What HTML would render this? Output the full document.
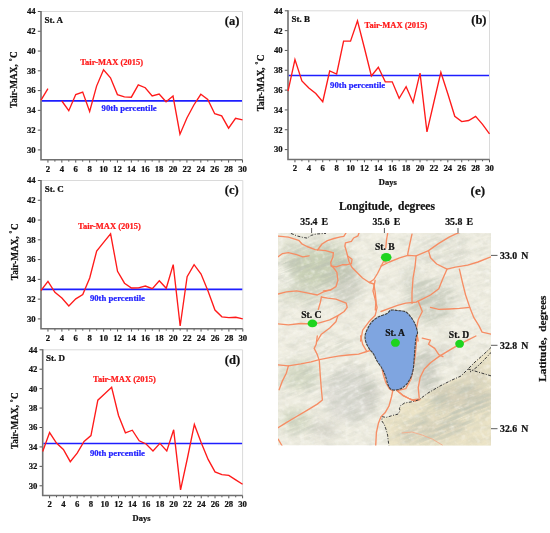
<!DOCTYPE html>
<html><head><meta charset="utf-8"><style>
html,body{margin:0;padding:0;background:#fff;}
body{width:550px;height:533px;overflow:hidden;}
svg{display:block;filter:blur(0.3px);}
text{font-family:"Liberation Serif",serif;font-weight:bold;fill:#111;stroke:#111;stroke-width:0.22px;}
.t{font-size:8.7px;}
.st{font-size:9px;}
.pl{font-size:12.5px;}
.rl{font-size:8.5px;fill:#ff1a1a;stroke:#ff1a1a;}
.bl{font-size:8.7px;fill:#2222ff;stroke:#2222ff;}
.yt{font-size:9.3px;}
.dy{font-size:8.5px;}
.mt{font-size:9.8px;word-spacing:1.6px;}
.ms{font-size:9.6px;}
.mh{font-size:11.5px;}
</style></head><body>
<svg width="550" height="533" viewBox="0 0 550 533">
<path d="M41.0 11.5H242.5V159.8" fill="none" stroke="#dadada" stroke-width="1"/>
<line x1="37.80" y1="149.91" x2="41.0" y2="149.91" stroke="#555" stroke-width="1"/>
<text x="35.70" y="152.81" text-anchor="end" class="t">30</text>
<line x1="37.80" y1="130.14" x2="41.0" y2="130.14" stroke="#555" stroke-width="1"/>
<text x="35.70" y="133.04" text-anchor="end" class="t">32</text>
<line x1="37.80" y1="110.37" x2="41.0" y2="110.37" stroke="#555" stroke-width="1"/>
<text x="35.70" y="113.27" text-anchor="end" class="t">34</text>
<line x1="37.80" y1="90.59" x2="41.0" y2="90.59" stroke="#555" stroke-width="1"/>
<text x="35.70" y="93.49" text-anchor="end" class="t">36</text>
<line x1="37.80" y1="70.82" x2="41.0" y2="70.82" stroke="#555" stroke-width="1"/>
<text x="35.70" y="73.72" text-anchor="end" class="t">38</text>
<line x1="37.80" y1="51.05" x2="41.0" y2="51.05" stroke="#555" stroke-width="1"/>
<text x="35.70" y="53.95" text-anchor="end" class="t">40</text>
<line x1="37.80" y1="31.27" x2="41.0" y2="31.27" stroke="#555" stroke-width="1"/>
<text x="35.70" y="34.17" text-anchor="end" class="t">42</text>
<line x1="37.80" y1="11.50" x2="41.0" y2="11.50" stroke="#555" stroke-width="1"/>
<text x="35.70" y="14.40" text-anchor="end" class="t">44</text>
<line x1="47.95" y1="159.8" x2="47.95" y2="162.60" stroke="#555" stroke-width="1"/>
<text x="47.95" y="171.60" text-anchor="middle" class="t">2</text>
<line x1="54.90" y1="159.8" x2="54.90" y2="161.60" stroke="#555" stroke-width="1"/>
<line x1="61.84" y1="159.8" x2="61.84" y2="162.60" stroke="#555" stroke-width="1"/>
<text x="61.84" y="171.60" text-anchor="middle" class="t">4</text>
<line x1="68.79" y1="159.8" x2="68.79" y2="161.60" stroke="#555" stroke-width="1"/>
<line x1="75.74" y1="159.8" x2="75.74" y2="162.60" stroke="#555" stroke-width="1"/>
<text x="75.74" y="171.60" text-anchor="middle" class="t">6</text>
<line x1="82.69" y1="159.8" x2="82.69" y2="161.60" stroke="#555" stroke-width="1"/>
<line x1="89.64" y1="159.8" x2="89.64" y2="162.60" stroke="#555" stroke-width="1"/>
<text x="89.64" y="171.60" text-anchor="middle" class="t">8</text>
<line x1="96.59" y1="159.8" x2="96.59" y2="161.60" stroke="#555" stroke-width="1"/>
<line x1="103.53" y1="159.8" x2="103.53" y2="162.60" stroke="#555" stroke-width="1"/>
<text x="103.53" y="171.60" text-anchor="middle" class="t">10</text>
<line x1="110.48" y1="159.8" x2="110.48" y2="161.60" stroke="#555" stroke-width="1"/>
<line x1="117.43" y1="159.8" x2="117.43" y2="162.60" stroke="#555" stroke-width="1"/>
<text x="117.43" y="171.60" text-anchor="middle" class="t">12</text>
<line x1="124.38" y1="159.8" x2="124.38" y2="161.60" stroke="#555" stroke-width="1"/>
<line x1="131.33" y1="159.8" x2="131.33" y2="162.60" stroke="#555" stroke-width="1"/>
<text x="131.33" y="171.60" text-anchor="middle" class="t">14</text>
<line x1="138.28" y1="159.8" x2="138.28" y2="161.60" stroke="#555" stroke-width="1"/>
<line x1="145.22" y1="159.8" x2="145.22" y2="162.60" stroke="#555" stroke-width="1"/>
<text x="145.22" y="171.60" text-anchor="middle" class="t">16</text>
<line x1="152.17" y1="159.8" x2="152.17" y2="161.60" stroke="#555" stroke-width="1"/>
<line x1="159.12" y1="159.8" x2="159.12" y2="162.60" stroke="#555" stroke-width="1"/>
<text x="159.12" y="171.60" text-anchor="middle" class="t">18</text>
<line x1="166.07" y1="159.8" x2="166.07" y2="161.60" stroke="#555" stroke-width="1"/>
<line x1="173.02" y1="159.8" x2="173.02" y2="162.60" stroke="#555" stroke-width="1"/>
<text x="173.02" y="171.60" text-anchor="middle" class="t">20</text>
<line x1="179.97" y1="159.8" x2="179.97" y2="161.60" stroke="#555" stroke-width="1"/>
<line x1="186.91" y1="159.8" x2="186.91" y2="162.60" stroke="#555" stroke-width="1"/>
<text x="186.91" y="171.60" text-anchor="middle" class="t">22</text>
<line x1="193.86" y1="159.8" x2="193.86" y2="161.60" stroke="#555" stroke-width="1"/>
<line x1="200.81" y1="159.8" x2="200.81" y2="162.60" stroke="#555" stroke-width="1"/>
<text x="200.81" y="171.60" text-anchor="middle" class="t">24</text>
<line x1="207.76" y1="159.8" x2="207.76" y2="161.60" stroke="#555" stroke-width="1"/>
<line x1="214.71" y1="159.8" x2="214.71" y2="162.60" stroke="#555" stroke-width="1"/>
<text x="214.71" y="171.60" text-anchor="middle" class="t">26</text>
<line x1="221.66" y1="159.8" x2="221.66" y2="161.60" stroke="#555" stroke-width="1"/>
<line x1="228.60" y1="159.8" x2="228.60" y2="162.60" stroke="#555" stroke-width="1"/>
<text x="228.60" y="171.60" text-anchor="middle" class="t">28</text>
<line x1="235.55" y1="159.8" x2="235.55" y2="161.60" stroke="#555" stroke-width="1"/>
<line x1="242.50" y1="159.8" x2="242.50" y2="162.60" stroke="#555" stroke-width="1"/>
<text x="242.50" y="171.60" text-anchor="middle" class="t">30</text>
<path d="M41.0 11.0V159.8H242.5" fill="none" stroke="#707070" stroke-width="1.6"/>
<line x1="41.8" y1="100.8" x2="242.0" y2="100.8" stroke="#1e1eff" stroke-width="1.7"/>
<polyline points="41.00,100.10 47.95,88.60" fill="none" stroke="#ff1a1a" stroke-width="1.35" stroke-linejoin="miter"/>
<polyline points="61.84,101.00 68.79,110.70 75.74,94.60 82.69,92.10 89.64,111.50 96.59,86.10 103.53,69.70 110.48,77.80 117.43,94.60 124.38,96.90 131.33,97.20 138.28,84.80 145.22,87.70 152.17,95.90 159.12,94.00 166.07,101.80 173.02,96.10 179.97,134.20 186.91,118.00 193.86,105.00 200.81,94.30 207.76,99.40 214.71,113.70 221.66,115.90 228.60,128.20 235.55,118.30 242.50,119.90" fill="none" stroke="#ff1a1a" stroke-width="1.35" stroke-linejoin="miter"/>
<text x="44.60" y="22.90" class="st">St. A</text>
<text x="239.30" y="25.00" text-anchor="end" class="pl">(a)</text>
<text x="80.2" y="65.0" class="rl">Tair-MAX (2015)</text>
<text x="101.6" y="111.3" class="bl">90th percentile</text>
<text transform="translate(17.40,79.70) rotate(-90)" text-anchor="middle" class="yt">Tair-MAX,<tspan dx="2.8" font-size="7" dy="-3.4">°</tspan><tspan dy="3.4" dx="0.5">C</tspan></text>
<path d="M288.0 10.8H489.5V159.5" fill="none" stroke="#dadada" stroke-width="1"/>
<line x1="284.80" y1="149.59" x2="288.0" y2="149.59" stroke="#555" stroke-width="1"/>
<text x="282.70" y="152.49" text-anchor="end" class="t">30</text>
<line x1="284.80" y1="129.76" x2="288.0" y2="129.76" stroke="#555" stroke-width="1"/>
<text x="282.70" y="132.66" text-anchor="end" class="t">32</text>
<line x1="284.80" y1="109.93" x2="288.0" y2="109.93" stroke="#555" stroke-width="1"/>
<text x="282.70" y="112.83" text-anchor="end" class="t">34</text>
<line x1="284.80" y1="90.11" x2="288.0" y2="90.11" stroke="#555" stroke-width="1"/>
<text x="282.70" y="93.01" text-anchor="end" class="t">36</text>
<line x1="284.80" y1="70.28" x2="288.0" y2="70.28" stroke="#555" stroke-width="1"/>
<text x="282.70" y="73.18" text-anchor="end" class="t">38</text>
<line x1="284.80" y1="50.45" x2="288.0" y2="50.45" stroke="#555" stroke-width="1"/>
<text x="282.70" y="53.35" text-anchor="end" class="t">40</text>
<line x1="284.80" y1="30.63" x2="288.0" y2="30.63" stroke="#555" stroke-width="1"/>
<text x="282.70" y="33.53" text-anchor="end" class="t">42</text>
<line x1="284.80" y1="10.80" x2="288.0" y2="10.80" stroke="#555" stroke-width="1"/>
<text x="282.70" y="13.70" text-anchor="end" class="t">44</text>
<line x1="294.95" y1="159.5" x2="294.95" y2="162.30" stroke="#555" stroke-width="1"/>
<text x="294.95" y="171.30" text-anchor="middle" class="t">2</text>
<line x1="301.90" y1="159.5" x2="301.90" y2="161.30" stroke="#555" stroke-width="1"/>
<line x1="308.84" y1="159.5" x2="308.84" y2="162.30" stroke="#555" stroke-width="1"/>
<text x="308.84" y="171.30" text-anchor="middle" class="t">4</text>
<line x1="315.79" y1="159.5" x2="315.79" y2="161.30" stroke="#555" stroke-width="1"/>
<line x1="322.74" y1="159.5" x2="322.74" y2="162.30" stroke="#555" stroke-width="1"/>
<text x="322.74" y="171.30" text-anchor="middle" class="t">6</text>
<line x1="329.69" y1="159.5" x2="329.69" y2="161.30" stroke="#555" stroke-width="1"/>
<line x1="336.64" y1="159.5" x2="336.64" y2="162.30" stroke="#555" stroke-width="1"/>
<text x="336.64" y="171.30" text-anchor="middle" class="t">8</text>
<line x1="343.59" y1="159.5" x2="343.59" y2="161.30" stroke="#555" stroke-width="1"/>
<line x1="350.53" y1="159.5" x2="350.53" y2="162.30" stroke="#555" stroke-width="1"/>
<text x="350.53" y="171.30" text-anchor="middle" class="t">10</text>
<line x1="357.48" y1="159.5" x2="357.48" y2="161.30" stroke="#555" stroke-width="1"/>
<line x1="364.43" y1="159.5" x2="364.43" y2="162.30" stroke="#555" stroke-width="1"/>
<text x="364.43" y="171.30" text-anchor="middle" class="t">12</text>
<line x1="371.38" y1="159.5" x2="371.38" y2="161.30" stroke="#555" stroke-width="1"/>
<line x1="378.33" y1="159.5" x2="378.33" y2="162.30" stroke="#555" stroke-width="1"/>
<text x="378.33" y="171.30" text-anchor="middle" class="t">14</text>
<line x1="385.28" y1="159.5" x2="385.28" y2="161.30" stroke="#555" stroke-width="1"/>
<line x1="392.22" y1="159.5" x2="392.22" y2="162.30" stroke="#555" stroke-width="1"/>
<text x="392.22" y="171.30" text-anchor="middle" class="t">16</text>
<line x1="399.17" y1="159.5" x2="399.17" y2="161.30" stroke="#555" stroke-width="1"/>
<line x1="406.12" y1="159.5" x2="406.12" y2="162.30" stroke="#555" stroke-width="1"/>
<text x="406.12" y="171.30" text-anchor="middle" class="t">18</text>
<line x1="413.07" y1="159.5" x2="413.07" y2="161.30" stroke="#555" stroke-width="1"/>
<line x1="420.02" y1="159.5" x2="420.02" y2="162.30" stroke="#555" stroke-width="1"/>
<text x="420.02" y="171.30" text-anchor="middle" class="t">20</text>
<line x1="426.97" y1="159.5" x2="426.97" y2="161.30" stroke="#555" stroke-width="1"/>
<line x1="433.91" y1="159.5" x2="433.91" y2="162.30" stroke="#555" stroke-width="1"/>
<text x="433.91" y="171.30" text-anchor="middle" class="t">22</text>
<line x1="440.86" y1="159.5" x2="440.86" y2="161.30" stroke="#555" stroke-width="1"/>
<line x1="447.81" y1="159.5" x2="447.81" y2="162.30" stroke="#555" stroke-width="1"/>
<text x="447.81" y="171.30" text-anchor="middle" class="t">24</text>
<line x1="454.76" y1="159.5" x2="454.76" y2="161.30" stroke="#555" stroke-width="1"/>
<line x1="461.71" y1="159.5" x2="461.71" y2="162.30" stroke="#555" stroke-width="1"/>
<text x="461.71" y="171.30" text-anchor="middle" class="t">26</text>
<line x1="468.66" y1="159.5" x2="468.66" y2="161.30" stroke="#555" stroke-width="1"/>
<line x1="475.60" y1="159.5" x2="475.60" y2="162.30" stroke="#555" stroke-width="1"/>
<text x="475.60" y="171.30" text-anchor="middle" class="t">28</text>
<line x1="482.55" y1="159.5" x2="482.55" y2="161.30" stroke="#555" stroke-width="1"/>
<line x1="489.50" y1="159.5" x2="489.50" y2="162.30" stroke="#555" stroke-width="1"/>
<text x="489.50" y="171.30" text-anchor="middle" class="t">30</text>
<path d="M288.0 10.3V159.5H489.5" fill="none" stroke="#707070" stroke-width="1.6"/>
<line x1="288.8" y1="75.5" x2="489.0" y2="75.5" stroke="#1e1eff" stroke-width="1.7"/>
<polyline points="288.00,91.10 294.95,59.50 301.90,81.00 308.84,88.00 315.79,93.50 322.74,101.70 329.69,71.00 336.64,74.00 343.59,41.10 350.53,41.10 357.48,20.80 364.43,48.00 371.38,76.00 378.33,67.30 385.28,81.80 392.22,81.80 399.17,98.30 406.12,86.70 413.07,102.50 420.02,73.20 426.97,131.80 433.91,102.00 440.86,72.30 447.81,93.80 454.76,116.30 461.71,121.60 468.66,120.50 475.60,116.30 482.55,124.30 489.50,133.90" fill="none" stroke="#ff1a1a" stroke-width="1.35" stroke-linejoin="miter"/>
<text x="291.50" y="22.20" class="st">St. B</text>
<text x="486.50" y="23.60" text-anchor="end" class="pl">(b)</text>
<text x="364.5" y="28.1" class="rl">Tair-MAX (2015)</text>
<text x="330.1" y="87.8" class="bl">90th percentile</text>
<text transform="translate(263.80,82.90) rotate(-90)" text-anchor="middle" class="yt">Tair-MAX,<tspan dx="2.8" font-size="7" dy="-3.4">°</tspan><tspan dy="3.4" dx="0.5">C</tspan></text>
<text x="387.80" y="184.90" text-anchor="middle" class="dy">Days</text>
<path d="M41.0 180.5H242.8V328.8" fill="none" stroke="#dadada" stroke-width="1"/>
<line x1="37.80" y1="318.91" x2="41.0" y2="318.91" stroke="#555" stroke-width="1"/>
<text x="35.70" y="321.81" text-anchor="end" class="t">30</text>
<line x1="37.80" y1="299.14" x2="41.0" y2="299.14" stroke="#555" stroke-width="1"/>
<text x="35.70" y="302.04" text-anchor="end" class="t">32</text>
<line x1="37.80" y1="279.37" x2="41.0" y2="279.37" stroke="#555" stroke-width="1"/>
<text x="35.70" y="282.27" text-anchor="end" class="t">34</text>
<line x1="37.80" y1="259.59" x2="41.0" y2="259.59" stroke="#555" stroke-width="1"/>
<text x="35.70" y="262.49" text-anchor="end" class="t">36</text>
<line x1="37.80" y1="239.82" x2="41.0" y2="239.82" stroke="#555" stroke-width="1"/>
<text x="35.70" y="242.72" text-anchor="end" class="t">38</text>
<line x1="37.80" y1="220.05" x2="41.0" y2="220.05" stroke="#555" stroke-width="1"/>
<text x="35.70" y="222.95" text-anchor="end" class="t">40</text>
<line x1="37.80" y1="200.27" x2="41.0" y2="200.27" stroke="#555" stroke-width="1"/>
<text x="35.70" y="203.17" text-anchor="end" class="t">42</text>
<line x1="37.80" y1="180.50" x2="41.0" y2="180.50" stroke="#555" stroke-width="1"/>
<text x="35.70" y="183.40" text-anchor="end" class="t">44</text>
<line x1="47.96" y1="328.8" x2="47.96" y2="331.60" stroke="#555" stroke-width="1"/>
<text x="47.96" y="340.60" text-anchor="middle" class="t">2</text>
<line x1="54.92" y1="328.8" x2="54.92" y2="330.60" stroke="#555" stroke-width="1"/>
<line x1="61.88" y1="328.8" x2="61.88" y2="331.60" stroke="#555" stroke-width="1"/>
<text x="61.88" y="340.60" text-anchor="middle" class="t">4</text>
<line x1="68.83" y1="328.8" x2="68.83" y2="330.60" stroke="#555" stroke-width="1"/>
<line x1="75.79" y1="328.8" x2="75.79" y2="331.60" stroke="#555" stroke-width="1"/>
<text x="75.79" y="340.60" text-anchor="middle" class="t">6</text>
<line x1="82.75" y1="328.8" x2="82.75" y2="330.60" stroke="#555" stroke-width="1"/>
<line x1="89.71" y1="328.8" x2="89.71" y2="331.60" stroke="#555" stroke-width="1"/>
<text x="89.71" y="340.60" text-anchor="middle" class="t">8</text>
<line x1="96.67" y1="328.8" x2="96.67" y2="330.60" stroke="#555" stroke-width="1"/>
<line x1="103.63" y1="328.8" x2="103.63" y2="331.60" stroke="#555" stroke-width="1"/>
<text x="103.63" y="340.60" text-anchor="middle" class="t">10</text>
<line x1="110.59" y1="328.8" x2="110.59" y2="330.60" stroke="#555" stroke-width="1"/>
<line x1="117.54" y1="328.8" x2="117.54" y2="331.60" stroke="#555" stroke-width="1"/>
<text x="117.54" y="340.60" text-anchor="middle" class="t">12</text>
<line x1="124.50" y1="328.8" x2="124.50" y2="330.60" stroke="#555" stroke-width="1"/>
<line x1="131.46" y1="328.8" x2="131.46" y2="331.60" stroke="#555" stroke-width="1"/>
<text x="131.46" y="340.60" text-anchor="middle" class="t">14</text>
<line x1="138.42" y1="328.8" x2="138.42" y2="330.60" stroke="#555" stroke-width="1"/>
<line x1="145.38" y1="328.8" x2="145.38" y2="331.60" stroke="#555" stroke-width="1"/>
<text x="145.38" y="340.60" text-anchor="middle" class="t">16</text>
<line x1="152.34" y1="328.8" x2="152.34" y2="330.60" stroke="#555" stroke-width="1"/>
<line x1="159.30" y1="328.8" x2="159.30" y2="331.60" stroke="#555" stroke-width="1"/>
<text x="159.30" y="340.60" text-anchor="middle" class="t">18</text>
<line x1="166.26" y1="328.8" x2="166.26" y2="330.60" stroke="#555" stroke-width="1"/>
<line x1="173.21" y1="328.8" x2="173.21" y2="331.60" stroke="#555" stroke-width="1"/>
<text x="173.21" y="340.60" text-anchor="middle" class="t">20</text>
<line x1="180.17" y1="328.8" x2="180.17" y2="330.60" stroke="#555" stroke-width="1"/>
<line x1="187.13" y1="328.8" x2="187.13" y2="331.60" stroke="#555" stroke-width="1"/>
<text x="187.13" y="340.60" text-anchor="middle" class="t">22</text>
<line x1="194.09" y1="328.8" x2="194.09" y2="330.60" stroke="#555" stroke-width="1"/>
<line x1="201.05" y1="328.8" x2="201.05" y2="331.60" stroke="#555" stroke-width="1"/>
<text x="201.05" y="340.60" text-anchor="middle" class="t">24</text>
<line x1="208.01" y1="328.8" x2="208.01" y2="330.60" stroke="#555" stroke-width="1"/>
<line x1="214.97" y1="328.8" x2="214.97" y2="331.60" stroke="#555" stroke-width="1"/>
<text x="214.97" y="340.60" text-anchor="middle" class="t">26</text>
<line x1="221.92" y1="328.8" x2="221.92" y2="330.60" stroke="#555" stroke-width="1"/>
<line x1="228.88" y1="328.8" x2="228.88" y2="331.60" stroke="#555" stroke-width="1"/>
<text x="228.88" y="340.60" text-anchor="middle" class="t">28</text>
<line x1="235.84" y1="328.8" x2="235.84" y2="330.60" stroke="#555" stroke-width="1"/>
<line x1="242.80" y1="328.8" x2="242.80" y2="331.60" stroke="#555" stroke-width="1"/>
<text x="242.80" y="340.60" text-anchor="middle" class="t">30</text>
<path d="M41.0 180.0V328.8H242.8" fill="none" stroke="#707070" stroke-width="1.6"/>
<line x1="41.8" y1="289.4" x2="242.3" y2="289.4" stroke="#1e1eff" stroke-width="1.7"/>
<polyline points="41.00,290.50 47.96,281.40 54.92,292.40 61.88,298.00 68.83,306.00 75.79,298.90 82.75,294.50 89.71,278.00 96.67,251.00 103.63,242.30 110.59,233.80 117.54,271.30 124.50,283.20 131.46,288.00 138.42,287.80 145.38,286.00 152.34,288.70 159.30,280.80 166.26,288.30 173.21,264.60 180.17,326.00 187.13,276.70 194.09,264.70 201.05,274.00 208.01,291.00 214.97,310.10 221.92,316.80 228.88,317.60 235.84,317.30 242.80,318.80" fill="none" stroke="#ff1a1a" stroke-width="1.35" stroke-linejoin="miter"/>
<text x="44.70" y="192.40" class="st">St. C</text>
<text x="238.70" y="193.60" text-anchor="end" class="pl">(c)</text>
<text x="78" y="229.4" class="rl">Tair-MAX (2015)</text>
<text x="89.9" y="301" class="bl">90th percentile</text>
<text transform="translate(17.50,251.80) rotate(-90)" text-anchor="middle" class="yt">Tair-MAX,<tspan dx="2.8" font-size="7" dy="-3.4">°</tspan><tspan dy="3.4" dx="0.5">C</tspan></text>
<path d="M42.7 349.8H242.6V495.5" fill="none" stroke="#dadada" stroke-width="1"/>
<line x1="39.50" y1="485.79" x2="42.7" y2="485.79" stroke="#555" stroke-width="1"/>
<text x="37.40" y="488.69" text-anchor="end" class="t">30</text>
<line x1="39.50" y1="466.36" x2="42.7" y2="466.36" stroke="#555" stroke-width="1"/>
<text x="37.40" y="469.26" text-anchor="end" class="t">32</text>
<line x1="39.50" y1="446.93" x2="42.7" y2="446.93" stroke="#555" stroke-width="1"/>
<text x="37.40" y="449.83" text-anchor="end" class="t">34</text>
<line x1="39.50" y1="427.51" x2="42.7" y2="427.51" stroke="#555" stroke-width="1"/>
<text x="37.40" y="430.41" text-anchor="end" class="t">36</text>
<line x1="39.50" y1="408.08" x2="42.7" y2="408.08" stroke="#555" stroke-width="1"/>
<text x="37.40" y="410.98" text-anchor="end" class="t">38</text>
<line x1="39.50" y1="388.65" x2="42.7" y2="388.65" stroke="#555" stroke-width="1"/>
<text x="37.40" y="391.55" text-anchor="end" class="t">40</text>
<line x1="39.50" y1="369.23" x2="42.7" y2="369.23" stroke="#555" stroke-width="1"/>
<text x="37.40" y="372.13" text-anchor="end" class="t">42</text>
<line x1="39.50" y1="349.80" x2="42.7" y2="349.80" stroke="#555" stroke-width="1"/>
<text x="37.40" y="352.70" text-anchor="end" class="t">44</text>
<line x1="49.59" y1="495.5" x2="49.59" y2="498.30" stroke="#555" stroke-width="1"/>
<text x="49.59" y="507.30" text-anchor="middle" class="t">2</text>
<line x1="56.49" y1="495.5" x2="56.49" y2="497.30" stroke="#555" stroke-width="1"/>
<line x1="63.38" y1="495.5" x2="63.38" y2="498.30" stroke="#555" stroke-width="1"/>
<text x="63.38" y="507.30" text-anchor="middle" class="t">4</text>
<line x1="70.27" y1="495.5" x2="70.27" y2="497.30" stroke="#555" stroke-width="1"/>
<line x1="77.17" y1="495.5" x2="77.17" y2="498.30" stroke="#555" stroke-width="1"/>
<text x="77.17" y="507.30" text-anchor="middle" class="t">6</text>
<line x1="84.06" y1="495.5" x2="84.06" y2="497.30" stroke="#555" stroke-width="1"/>
<line x1="90.95" y1="495.5" x2="90.95" y2="498.30" stroke="#555" stroke-width="1"/>
<text x="90.95" y="507.30" text-anchor="middle" class="t">8</text>
<line x1="97.84" y1="495.5" x2="97.84" y2="497.30" stroke="#555" stroke-width="1"/>
<line x1="104.74" y1="495.5" x2="104.74" y2="498.30" stroke="#555" stroke-width="1"/>
<text x="104.74" y="507.30" text-anchor="middle" class="t">10</text>
<line x1="111.63" y1="495.5" x2="111.63" y2="497.30" stroke="#555" stroke-width="1"/>
<line x1="118.52" y1="495.5" x2="118.52" y2="498.30" stroke="#555" stroke-width="1"/>
<text x="118.52" y="507.30" text-anchor="middle" class="t">12</text>
<line x1="125.42" y1="495.5" x2="125.42" y2="497.30" stroke="#555" stroke-width="1"/>
<line x1="132.31" y1="495.5" x2="132.31" y2="498.30" stroke="#555" stroke-width="1"/>
<text x="132.31" y="507.30" text-anchor="middle" class="t">14</text>
<line x1="139.20" y1="495.5" x2="139.20" y2="497.30" stroke="#555" stroke-width="1"/>
<line x1="146.10" y1="495.5" x2="146.10" y2="498.30" stroke="#555" stroke-width="1"/>
<text x="146.10" y="507.30" text-anchor="middle" class="t">16</text>
<line x1="152.99" y1="495.5" x2="152.99" y2="497.30" stroke="#555" stroke-width="1"/>
<line x1="159.88" y1="495.5" x2="159.88" y2="498.30" stroke="#555" stroke-width="1"/>
<text x="159.88" y="507.30" text-anchor="middle" class="t">18</text>
<line x1="166.78" y1="495.5" x2="166.78" y2="497.30" stroke="#555" stroke-width="1"/>
<line x1="173.67" y1="495.5" x2="173.67" y2="498.30" stroke="#555" stroke-width="1"/>
<text x="173.67" y="507.30" text-anchor="middle" class="t">20</text>
<line x1="180.56" y1="495.5" x2="180.56" y2="497.30" stroke="#555" stroke-width="1"/>
<line x1="187.46" y1="495.5" x2="187.46" y2="498.30" stroke="#555" stroke-width="1"/>
<text x="187.46" y="507.30" text-anchor="middle" class="t">22</text>
<line x1="194.35" y1="495.5" x2="194.35" y2="497.30" stroke="#555" stroke-width="1"/>
<line x1="201.24" y1="495.5" x2="201.24" y2="498.30" stroke="#555" stroke-width="1"/>
<text x="201.24" y="507.30" text-anchor="middle" class="t">24</text>
<line x1="208.13" y1="495.5" x2="208.13" y2="497.30" stroke="#555" stroke-width="1"/>
<line x1="215.03" y1="495.5" x2="215.03" y2="498.30" stroke="#555" stroke-width="1"/>
<text x="215.03" y="507.30" text-anchor="middle" class="t">26</text>
<line x1="221.92" y1="495.5" x2="221.92" y2="497.30" stroke="#555" stroke-width="1"/>
<line x1="228.81" y1="495.5" x2="228.81" y2="498.30" stroke="#555" stroke-width="1"/>
<text x="228.81" y="507.30" text-anchor="middle" class="t">28</text>
<line x1="235.71" y1="495.5" x2="235.71" y2="497.30" stroke="#555" stroke-width="1"/>
<line x1="242.60" y1="495.5" x2="242.60" y2="498.30" stroke="#555" stroke-width="1"/>
<text x="242.60" y="507.30" text-anchor="middle" class="t">30</text>
<path d="M42.7 349.3V495.5H242.6" fill="none" stroke="#707070" stroke-width="1.6"/>
<line x1="43.5" y1="443.5" x2="242.1" y2="443.5" stroke="#1e1eff" stroke-width="1.7"/>
<polyline points="42.70,451.50 49.59,432.60 56.49,443.10 63.38,449.50 70.27,461.70 77.17,453.20 84.06,441.40 90.95,435.60 97.84,400.20 104.74,393.80 111.63,387.30 118.52,415.50 125.42,432.80 132.31,430.20 139.20,440.80 146.10,444.00 152.99,450.90 159.88,443.40 166.78,450.90 173.67,429.80 180.56,489.80 187.46,458.00 194.35,424.40 201.24,442.70 208.13,459.40 215.03,471.90 221.92,474.60 228.81,475.40 235.71,479.90 242.60,484.20" fill="none" stroke="#ff1a1a" stroke-width="1.35" stroke-linejoin="miter"/>
<text x="46.10" y="361.00" class="st">St. D</text>
<text x="240.10" y="364.30" text-anchor="end" class="pl">(d)</text>
<text x="93" y="382" class="rl">Tair-MAX (2015)</text>
<text x="89.9" y="456" class="bl">90th percentile</text>
<text transform="translate(18.40,420.60) rotate(-90)" text-anchor="middle" class="yt">Tair-MAX,<tspan dx="2.8" font-size="7" dy="-3.4">°</tspan><tspan dy="3.4" dx="0.5">C</tspan></text>
<text x="141.50" y="520.90" text-anchor="middle" class="dy">Days</text>
<defs>
<clipPath id="mc"><rect x="278" y="233" width="213" height="212.5"/></clipPath>
<filter id="b4" x="-50%" y="-50%" width="200%" height="200%"><feGaussianBlur stdDeviation="4"/></filter>
<filter id="b2" x="-50%" y="-50%" width="200%" height="200%"><feGaussianBlur stdDeviation="2"/></filter>
<filter id="tx" x="0" y="0" width="100%" height="100%"><feTurbulence type="fractalNoise" baseFrequency="0.09 0.16" numOctaves="3" seed="7"/><feColorMatrix type="matrix" values="0 0 0 0 0.45  0 0 0 0 0.47  0 0 0 0 0.4  1.6 0 0 0 -0.72"/></filter>
<filter id="tw" x="0" y="0" width="100%" height="100%"><feTurbulence type="fractalNoise" baseFrequency="0.2" numOctaves="2" seed="11"/><feColorMatrix type="matrix" values="0 0 0 0 1  0 0 0 0 1  0 0 0 0 0.97  1.8 0 0 0 -0.85"/></filter>
<filter id="stk" x="0" y="0" width="100%" height="100%" filterUnits="userSpaceOnUse"><feTurbulence type="turbulence" baseFrequency="0.035 0.22" numOctaves="2" seed="5"/><feColorMatrix type="matrix" values="0 0 0 0 0.5  0 0 0 0 0.54  0 0 0 0 0.45  2.2 0 0 0 -0.25"/></filter>
<mask id="rm" maskUnits="userSpaceOnUse" x="270" y="225" width="230" height="230"><rect x="270" y="225" width="230" height="230" fill="#262626"/><ellipse cx="425" cy="372" rx="14" ry="22" fill="#fff" fill-opacity="0.9" filter="url(#b4)"/><ellipse cx="455" cy="410" rx="35" ry="20" fill="#fff" fill-opacity="0.9" filter="url(#b4)"/><ellipse cx="420" cy="430" rx="25" ry="12" fill="#fff" fill-opacity="0.8" filter="url(#b4)"/><ellipse cx="315" cy="268" rx="40" ry="22" fill="#fff" fill-opacity="0.9" filter="url(#b4)"/><ellipse cx="345" cy="285" rx="15" ry="25" fill="#fff" fill-opacity="0.7" filter="url(#b4)"/><ellipse cx="300" cy="300" rx="25" ry="10" fill="#fff" fill-opacity="0.6" filter="url(#b4)"/><ellipse cx="350" cy="395" rx="28" ry="30" fill="#fff" fill-opacity="0.5" filter="url(#b4)"/><ellipse cx="300" cy="380" rx="20" ry="18" fill="#fff" fill-opacity="0.6" filter="url(#b4)"/><ellipse cx="300" cy="425" rx="18" ry="12" fill="#fff" fill-opacity="0.6" filter="url(#b4)"/><ellipse cx="430" cy="300" rx="25" ry="22" fill="#fff" fill-opacity="0.8" filter="url(#b4)"/><ellipse cx="462" cy="398" rx="32" ry="14" fill="#fff" fill-opacity="0.8" filter="url(#b4)"/><ellipse cx="440" cy="427" rx="26" ry="10" fill="#fff" fill-opacity="0.7" filter="url(#b4)"/><ellipse cx="405" cy="362" rx="8" ry="22" fill="#fff" fill-opacity="0.6" filter="url(#b4)"/><ellipse cx="370" cy="395" rx="8" ry="14" fill="#fff" fill-opacity="0.6" filter="url(#b4)"/><ellipse cx="450" cy="250" rx="35" ry="15" fill="#fff" fill-opacity="0.35" filter="url(#b4)"/><ellipse cx="330" cy="345" rx="25" ry="12" fill="#fff" fill-opacity="0.5" filter="url(#b4)"/></mask>
</defs>
<g clip-path="url(#mc)">
<rect x="278" y="233" width="213" height="212.5" fill="#f1efe3"/>
<path d="M491.5,347.0L483.0,355.0L475.0,362.0L468.0,369.0L461.0,376.0L452.0,380.0L440.0,386.0L428.0,393.0L419.0,399.7L412.5,401.7L404.6,403.0L400.7,405.6L399.4,408.2L400.0,410.8L398.0,414.1L392.8,415.4L386.2,417.4L382.3,416.7L381.7,420.7L384.3,424.6L386.2,429.9L387.6,435.1L388.2,440.4L388.9,446.0L492.0,446.0L492.0,340.0Z" fill="#ede5c8"/>
<ellipse cx="318" cy="268" rx="35" ry="18" fill="#b4c19c" opacity="0.6" filter="url(#b4)"/>
<ellipse cx="300" cy="292" rx="22" ry="10" fill="#bfc8ad" opacity="0.45" filter="url(#b4)"/>
<ellipse cx="345" cy="282" rx="14" ry="24" fill="#bfc1b6" opacity="0.5" filter="url(#b4)"/>
<ellipse cx="330" cy="250" rx="20" ry="10" fill="#c3ccb0" opacity="0.45" filter="url(#b4)"/>
<ellipse cx="292" cy="247" rx="12" ry="8" fill="#c5cdb3" opacity="0.4" filter="url(#b4)"/>
<ellipse cx="350" cy="395" rx="26" ry="28" fill="#cdcccb" opacity="0.45" filter="url(#b4)"/>
<ellipse cx="300" cy="375" rx="18" ry="15" fill="#bfcbab" opacity="0.45" filter="url(#b4)"/>
<ellipse cx="295" cy="420" rx="15" ry="12" fill="#bfcbab" opacity="0.45" filter="url(#b4)"/>
<ellipse cx="325" cy="430" rx="14" ry="10" fill="#c9c7bf" opacity="0.45" filter="url(#b4)"/>
<ellipse cx="430" cy="302" rx="22" ry="20" fill="#c0c5b6" opacity="0.55" filter="url(#b4)"/>
<ellipse cx="412" cy="280" rx="10" ry="16" fill="#c6cbbd" opacity="0.4" filter="url(#b4)"/>
<ellipse cx="462" cy="398" rx="32" ry="14" fill="#cdc7b3" opacity="0.6" filter="url(#b4)"/>
<ellipse cx="440" cy="427" rx="26" ry="10" fill="#d0cab6" opacity="0.55" filter="url(#b4)"/>
<ellipse cx="475" cy="375" rx="14" ry="8" fill="#cdc9ba" opacity="0.5" filter="url(#b4)"/>
<ellipse cx="410" cy="435" rx="12" ry="8" fill="#d5cfbd" opacity="0.5" filter="url(#b4)"/>
<ellipse cx="405" cy="362" rx="7" ry="20" fill="#c6c8bb" opacity="0.5" filter="url(#b4)"/>
<ellipse cx="370" cy="395" rx="8" ry="14" fill="#c6c5bc" opacity="0.45" filter="url(#b4)"/>
<ellipse cx="440" cy="252" rx="30" ry="14" fill="#dcdcd2" opacity="0.3" filter="url(#b4)"/>
<ellipse cx="285" cy="275" rx="9" ry="12" fill="#f6f5ec" opacity="0.8" filter="url(#b4)"/>
<ellipse cx="425" cy="372" rx="12" ry="20" fill="#bdbdb5" opacity="0.55" filter="url(#b4)"/>
<ellipse cx="440" cy="352" rx="14" ry="7" fill="#c4c4bc" opacity="0.45" filter="url(#b4)"/>
<ellipse cx="300" cy="330" rx="12" ry="8" fill="#f4f3ea" opacity="0.6" filter="url(#b4)"/>
<ellipse cx="470" cy="320" rx="14" ry="10" fill="#f2f1e8" opacity="0.5" filter="url(#b4)"/>
<rect x="278" y="233" width="213" height="212.5" filter="url(#tx)" opacity="0.35"/>
<rect x="278" y="233" width="213" height="212.5" filter="url(#tw)" opacity="0.6"/>
<g mask="url(#rm)" opacity="0.75"><rect x="200" y="150" width="370" height="370" filter="url(#stk)" transform="rotate(-22 385 340)"/></g>
<polyline points="401.6,433.0 412.0,432.0 422.3,435.1 432.6,439.2 442.9,445.4" fill="none" stroke="#f2b090" stroke-width="1"/>
<polyline points="278.1,236.2 288.4,237.2 298.7,240.3 301.8,243.8 307.0,246.5 315.2,249.6 325.5,250.6 332.8,252.7" fill="none" stroke="#f68d64" stroke-width="1.35" stroke-linejoin="round" stroke-linecap="round"/>
<polyline points="278.1,256.8 282.2,253.7 288.4,252.7 296.6,254.7 302.8,256.8 309.0,255.8" fill="none" stroke="#f68d64" stroke-width="1.35" stroke-linejoin="round" stroke-linecap="round"/>
<polyline points="278.1,294.0 286.3,291.9 296.6,290.9 307.0,292.9 317.3,295.0 323.5,291.9 330.7,289.8" fill="none" stroke="#f68d64" stroke-width="1.35" stroke-linejoin="round" stroke-linecap="round"/>
<polyline points="278.1,323.9 288.4,324.9 300.8,323.5 311.1,323.9 319.3,322.8 329.7,319.8 337.9,315.6 344.1,311.5 347.2,307.4 346.2,303.2 335.9,299.1 327.6,298.1 321.4,297.0" fill="none" stroke="#f68d64" stroke-width="1.35" stroke-linejoin="round" stroke-linecap="round"/>
<polyline points="321.4,297.0 320.4,302.2 318.3,309.4" fill="none" stroke="#f68d64" stroke-width="1.35" stroke-linejoin="round" stroke-linecap="round"/>
<polyline points="337.9,315.6 335.9,321.8 329.7,328.0 321.4,334.2 317.3,341.0" fill="none" stroke="#f68d64" stroke-width="1.35" stroke-linejoin="round" stroke-linecap="round"/>
<polyline points="375.1,280.5 373.0,290.9 375.1,299.1 377.1,307.4 375.1,315.6 368.9,321.8 362.7,330.1 360.6,341.0" fill="none" stroke="#f68d64" stroke-width="1.35" stroke-linejoin="round" stroke-linecap="round"/>
<polyline points="333.4,252.7 332.9,257.1 330.7,262.5 331.3,265.8 333.8,268.0 336.9,272.3 337.9,280.5 335.9,286.7 330.7,289.8 323.5,290.9" fill="none" stroke="#f68d64" stroke-width="1.35" stroke-linejoin="round" stroke-linecap="round"/>
<polyline points="387.7,233.0 386.5,240.0 385.8,248.0" fill="none" stroke="#f68d64" stroke-width="1.35" stroke-linejoin="round" stroke-linecap="round"/>
<polyline points="386.0,262.0 383.5,261.5 380.5,267.5 377.5,273.5 373.8,279.5 369.3,282.5 362.5,278.0 358.0,273.5 352.0,267.5 349.0,261.5 347.6,256.0 346.5,251.6 344.9,246.2 345.4,242.9 351.4,241.3 353.6,238.0 358.0,235.8 359.0,233.0" fill="none" stroke="#f68d64" stroke-width="1.35" stroke-linejoin="round" stroke-linecap="round"/>
<polyline points="317.6,250.0 322.0,244.0 327.4,240.7 334.0,238.5 340.5,236.9 343.8,236.4 346.0,233.0" fill="none" stroke="#f68d64" stroke-width="1.35" stroke-linejoin="round" stroke-linecap="round"/>
<polyline points="331.3,265.8 336.2,266.9 342.7,264.7 347.1,264.7 351.4,263.6 352.0,259.3 347.6,256.0" fill="none" stroke="#f68d64" stroke-width="1.35" stroke-linejoin="round" stroke-linecap="round"/>
<polyline points="369.3,282.5 373.8,284.0 375.3,293.0 376.0,300.5 375.3,310.0" fill="none" stroke="#f68d64" stroke-width="1.35" stroke-linejoin="round" stroke-linecap="round"/>
<polyline points="381.0,266.1 389.3,262.0 399.6,257.8 407.8,255.4 416.1,255.8 428.5,250.6 438.8,243.4 449.1,237.2 455.3,234.1 459.4,232.7" fill="none" stroke="#f68d64" stroke-width="1.35" stroke-linejoin="round" stroke-linecap="round"/>
<polyline points="412.0,234.1 409.9,243.4 407.8,253.7 407.8,255.4" fill="none" stroke="#f68d64" stroke-width="1.35" stroke-linejoin="round" stroke-linecap="round"/>
<polyline points="416.1,255.8 415.1,266.1 413.0,278.5 412.0,292.9 412.0,303.2" fill="none" stroke="#f68d64" stroke-width="1.35" stroke-linejoin="round" stroke-linecap="round"/>
<polyline points="428.5,250.6 430.5,257.8 436.7,264.0 447.0,269.2 455.3,267.1 467.7,265.1 478.0,262.0 488.3,257.8 491.0,256.8" fill="none" stroke="#f68d64" stroke-width="1.35" stroke-linejoin="round" stroke-linecap="round"/>
<polyline points="447.0,269.2 442.9,278.5 438.8,288.8 430.5,295.0 422.3,299.1 416.1,302.2 405.8,303.2 397.5,305.3 389.3,308.4 381.0,311.5" fill="none" stroke="#f68d64" stroke-width="1.35" stroke-linejoin="round" stroke-linecap="round"/>
<polyline points="459.4,269.2 462.5,282.6 465.6,295.0 469.8,307.4 473.9,317.7 479.0,325.9 482.1,332.1 491.0,334.2" fill="none" stroke="#f68d64" stroke-width="1.35" stroke-linejoin="round" stroke-linecap="round"/>
<polyline points="418.2,301.2 422.3,311.5 418.2,319.8 416.1,330.1 418.2,341.0" fill="none" stroke="#f68d64" stroke-width="1.35" stroke-linejoin="round" stroke-linecap="round"/>
<polyline points="430.5,307.4 438.8,309.4 449.1,309.0 459.4,308.4 469.8,307.4" fill="none" stroke="#f68d64" stroke-width="1.35" stroke-linejoin="round" stroke-linecap="round"/>
<polyline points="278.1,364.9 288.4,365.9 300.8,363.9 311.1,361.8 319.3,359.7 329.7,357.7 337.9,356.2 348.2,355.0 358.6,354.2 366.8,351.5 370.9,350.4" fill="none" stroke="#f68d64" stroke-width="1.35" stroke-linejoin="round" stroke-linecap="round"/>
<polyline points="317.3,336.0 316.2,344.3 314.2,348.4 317.3,354.6 319.3,360.8 320.4,377.3 321.4,389.7 322.4,400.0 317.3,404.1 307.0,410.3 296.6,416.5 286.3,422.7 278.1,427.8" fill="none" stroke="#f68d64" stroke-width="1.35" stroke-linejoin="round" stroke-linecap="round"/>
<polyline points="288.4,365.9 286.3,373.2 282.2,381.4 279.1,389.7" fill="none" stroke="#f68d64" stroke-width="1.35" stroke-linejoin="round" stroke-linecap="round"/>
<polyline points="366.8,351.5 362.7,344.3 360.6,336.0" fill="none" stroke="#f68d64" stroke-width="1.35" stroke-linejoin="round" stroke-linecap="round"/>
<polyline points="278.1,439.2 282.2,446.0" fill="none" stroke="#f68d64" stroke-width="1.35" stroke-linejoin="round" stroke-linecap="round"/>
<polyline points="475.9,336.0 467.7,340.1 459.4,344.3 449.1,350.4 438.8,356.6 430.5,362.8 424.3,369.0 420.2,377.3 418.2,387.6 419.2,397.9" fill="none" stroke="#f68d64" stroke-width="1.35" stroke-linejoin="round" stroke-linecap="round"/>
<polyline points="417.1,336.0 416.1,346.3 415.1,356.6 413.0,369.0 410.9,379.3 405.8,388.6 397.5,390.7" fill="none" stroke="#f68d64" stroke-width="1.35" stroke-linejoin="round" stroke-linecap="round"/>
<polyline points="397.5,390.7 403.7,395.9 412.0,400.0 419.2,399.0" fill="none" stroke="#f68d64" stroke-width="1.35" stroke-linejoin="round" stroke-linecap="round"/>
<polyline points="422.3,338.1 430.5,340.1 428.5,344.3 434.7,348.4 438.8,354.6 442.9,356.6" fill="none" stroke="#f68d64" stroke-width="1.35" stroke-linejoin="round" stroke-linecap="round"/>
<polyline points="381.5,366.0 383.3,374.5 385.8,382.5 389.5,389.0 393.0,390.8" fill="none" stroke="#f68d64" stroke-width="1.35" stroke-linejoin="round" stroke-linecap="round"/>
<polyline points="392.8,390.5 391.5,397.0 388.9,406.2 385.0,412.8 381.0,416.7 378.4,423.3 376.4,432.5 375.7,445.6" fill="none" stroke="#f68d64" stroke-width="1.35" stroke-linejoin="round" stroke-linecap="round"/>
<polyline points="396.7,390.5 403.3,395.7 409.9,399.0 415.1,401.0 420.0,399.7" fill="none" stroke="#f68d64" stroke-width="1.35" stroke-linejoin="round" stroke-linecap="round"/>
<polyline points="491.5,347.0 483.0,355.0 475.0,362.0 468.0,369.0 461.0,376.0 452.0,380.0 440.0,386.0 428.0,393.0 419.0,399.7 412.5,401.7 404.6,403.0 400.7,405.6 399.4,408.2 400.0,410.8 398.0,414.1 392.8,415.4 386.2,417.4 382.3,416.7 381.7,420.7 384.3,424.6 386.2,429.9 387.6,435.1 388.2,440.4 388.9,445.6" fill="none" stroke="#3a3a3a" stroke-width="1" stroke-dasharray="3 1.5 1 1.5"/>
<polyline points="491.5,352.0 484.0,360.0 477.0,367.0 470.0,372.0" fill="none" stroke="#3a3a3a" stroke-width="1" stroke-dasharray="3 1.5 1 1.5"/>
<polyline points="468.0,369.0 478.0,372.0 491.5,376.0" fill="none" stroke="#3a3a3a" stroke-width="1" stroke-dasharray="3 1.5 1 1.5"/>
<polyline points="290.9,233.4 297.6,236.1 303.0,237.4 307.1,238.1 311.1,235.4 316.5,234.0 326.0,233.4" fill="none" stroke="#3a3a3a" stroke-width="1" stroke-dasharray="3 1.5 1 1.5"/>
<path d="M390.9,310.1 C392.7,309.6 395.6,310.3 398.0,310.6 C400.4,310.9 403.5,310.8 405.6,311.8 C407.7,312.8 409.1,314.8 410.7,316.8 C412.2,318.8 413.8,321.1 414.9,323.6 C416.0,326.1 417.2,330.0 417.5,332.0 C417.8,334.0 416.9,334.3 416.6,335.4 C416.3,336.5 416.1,336.6 415.8,338.8 C415.5,341.1 415.2,345.5 414.9,348.9 C414.6,352.3 414.4,355.7 414.1,359.1 C413.8,362.5 413.8,366.1 413.2,369.2 C412.6,372.3 412.0,375.0 410.7,377.7 C409.4,380.4 407.6,383.3 405.6,385.3 C403.6,387.3 401.3,388.8 398.9,389.5 C396.5,390.2 393.1,390.4 391.3,389.5 C389.5,388.6 388.9,386.6 387.9,384.4 C386.9,382.1 386.4,378.7 385.4,376.0 C384.4,373.3 383.4,370.9 382.0,368.4 C380.6,365.9 378.3,363.2 376.9,360.8 C375.5,358.4 374.8,356.0 373.5,354.0 C372.2,352.0 370.6,350.9 369.3,348.9 C368.0,346.9 366.6,344.4 365.9,342.2 C365.2,339.9 364.8,337.6 365.1,335.4 C365.4,333.1 366.5,330.9 367.6,328.7 C368.7,326.4 370.0,323.9 371.8,321.9 C373.6,319.9 376.1,318.2 378.6,316.8 C381.1,315.4 384.9,314.6 387.0,313.5 C389.1,312.4 389.1,310.6 390.9,310.1Z" fill="#7fa5e0" stroke="#404040" stroke-width="1.1" stroke-dasharray="3 0.8"/>
</g>
<line x1="311.6" y1="228" x2="311.6" y2="233" stroke="#333" stroke-width="0.8"/>
<line x1="384.4" y1="228" x2="384.4" y2="233" stroke="#333" stroke-width="0.8"/>
<line x1="458.0" y1="228" x2="458.0" y2="233" stroke="#333" stroke-width="0.8"/>
<line x1="491" y1="255.4" x2="497.5" y2="255.4" stroke="#333" stroke-width="0.8"/>
<line x1="491" y1="345.3" x2="497.5" y2="345.3" stroke="#333" stroke-width="0.8"/>
<line x1="491" y1="428.7" x2="497.5" y2="428.7" stroke="#333" stroke-width="0.8"/>
<text x="386.9" y="210.2" text-anchor="middle" class="mh" xml:space="preserve" style="white-space:pre">Longitude,  degrees</text>
<text x="314.2" y="225" text-anchor="middle" class="mt">35.4 E</text>
<text x="386.4" y="225" text-anchor="middle" class="mt">35.6 E</text>
<text x="459.1" y="225" text-anchor="middle" class="mt">35.8 E</text>
<text x="500" y="258.8" class="mt">33.0 N</text>
<text x="500" y="348.7" class="mt">32.8 N</text>
<text x="500" y="432.09999999999997" class="mt">32.6 N</text>
<text transform="translate(546.2,338.7) rotate(-90)" text-anchor="middle" class="mh" xml:space="preserve" style="font-size:11.3px;white-space:pre">Latitude,  degrees</text>
<text x="477.8" y="194.8" text-anchor="middle" class="pl" style="font-size:13px">(e)</text>
<ellipse cx="386.2" cy="257.3" rx="5.3" ry="4.3" fill="#1ed41e"/>
<text x="384.8" y="250.4" text-anchor="middle" class="ms">St. B</text>
<ellipse cx="312.4" cy="323.4" rx="4.8" ry="3.9" fill="#1ed41e"/>
<text x="311.3" y="317.7" text-anchor="middle" class="ms">St. C</text>
<ellipse cx="395.4" cy="342.8" rx="4.5" ry="4.0" fill="#1ed41e"/>
<text x="395.0" y="336.0" text-anchor="middle" class="ms">St. A</text>
<ellipse cx="459.6" cy="343.8" rx="4.4" ry="4.0" fill="#1ed41e"/>
<text x="459.0" y="337.7" text-anchor="middle" class="ms">St. D</text>
</svg>
</body></html>
